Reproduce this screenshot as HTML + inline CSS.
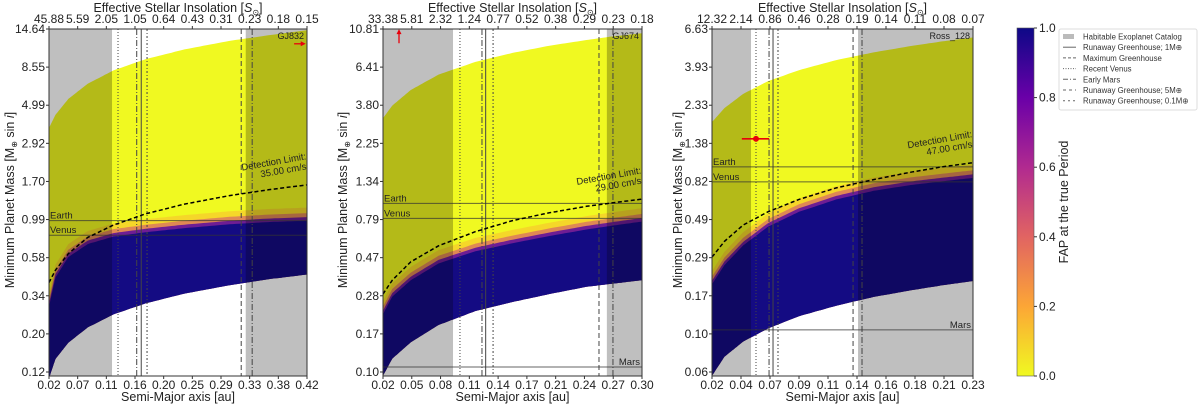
<!DOCTYPE html>
<html><head><meta charset="utf-8"><style>
html,body{margin:0;padding:0;background:#fff;}
svg{display:block;font-family:"Liberation Sans","DejaVu Sans",sans-serif;}
</style></head><body>
<svg id="chart" width="1200" height="405" viewBox="0 0 1200 405"></svg>
<script>
// ---------- DATA ----------
const panelNames = ['GJ832', 'GJ674', 'Ross_128'];
const detectLabels = ['35.00 cm/s', '29.00 cm/s', '47.00 cm/s'];
const aGrid1 = [0.02, 0.03, 0.05, 0.08, 0.12, 0.17, 0.23, 0.30, 0.36, 0.42];
const aGrid2 = [0.02, 0.03, 0.05, 0.08, 0.12, 0.16, 0.20, 0.24, 0.27, 0.30];
const aGrid3 = [0.02, 0.03, 0.045, 0.065, 0.09, 0.12, 0.15, 0.18, 0.205, 0.23];
const upper1 = [3.66, 4.4, 5.5, 6.8, 8.2, 9.6, 11.0, 12.4, 13.4, 14.4];
const upper2 = [3.2, 3.8, 4.7, 5.8, 6.9, 7.8, 8.6, 9.3, 9.8, 10.2];
const upper3 = [1.85, 2.24, 2.72, 3.24, 3.77, 4.33, 4.81, 5.25, 5.59, 5.9];
const lower1 = [0.11, 0.144, 0.181, 0.224, 0.269, 0.314, 0.36, 0.405, 0.44, 0.47];
const lower2 = [0.095, 0.12, 0.15, 0.19, 0.23, 0.26, 0.29, 0.32, 0.335, 0.35];
const lower3 = [0.057, 0.074, 0.091, 0.109, 0.129, 0.149, 0.168, 0.184, 0.197, 0.209];
const detect1 = [0.42, 0.50, 0.63, 0.79, 0.94, 1.10, 1.26, 1.42, 1.54, 1.65];
const detect2 = [0.29, 0.35, 0.45, 0.56, 0.68, 0.79, 0.88, 0.96, 1.01, 1.06];
const detect3 = [0.29, 0.36, 0.45, 0.54, 0.64, 0.75, 0.84, 0.93, 1.0, 1.06];
const trans1 = [0.30, 0.45, 0.60, 0.72, 0.80, 0.85, 0.90, 0.95, 0.98, 1.0];
const trans2 = [0.22, 0.28, 0.35, 0.44, 0.52, 0.58, 0.64, 0.70, 0.74, 0.78];
const trans3 = [0.20, 0.26, 0.34, 0.44, 0.54, 0.64, 0.72, 0.78, 0.82, 0.86];
const hec1 = [[0.02, 0.1177], [0.325, 0.42]];
const hec2 = [[0.02, 0.0957], [0.262, 0.30]];
const hec3 = [[0.02, 0.0514], [0.1375, 0.23]];
const vlines1 = [0.127, 0.156, 0.163, 0.172, 0.318, 0.335];
const vlines2 = [0.1032, 0.127, 0.131, 0.139, 0.2535, 0.2686];
const vlines3 = [0.0554, 0.0659, 0.0691, 0.0731, 0.1335, 0.1407];
const vStyles = ['1,2', '6,2,1,2', '', '2,2,1,2', '5,3', '6,2,1,2'];
const refNames = ['Earth', 'Venus', 'Mars'];
const refMass = [1.0, 0.815, 0.107];
const xTicks1 = ['0.02','0.07','0.11','0.16','0.20','0.25','0.29','0.33','0.38','0.42'];
const xTicks2 = ['0.02','0.05','0.08','0.11','0.14','0.17','0.21','0.24','0.27','0.30'];
const xTicks3 = ['0.02','0.04','0.07','0.09','0.11','0.14','0.16','0.18','0.21','0.23'];
const topTicks1 = ['45.88','5.59','2.05','1.05','0.64','0.43','0.31','0.23','0.18','0.15'];
const topTicks2 = ['33.38','5.81','2.32','1.24','0.77','0.52','0.38','0.29','0.23','0.18'];
const topTicks3 = ['12.32','2.14','0.86','0.46','0.28','0.19','0.14','0.11','0.08','0.07'];
const yTicks1 = ['14.64','8.55','4.99','2.92','1.70','0.99','0.58','0.34','0.20','0.12'];
const yTicks2 = ['10.81','6.41','3.80','2.25','1.34','0.79','0.47','0.28','0.17','0.10'];
const yTicks3 = ['6.63','3.93','2.33','1.38','0.82','0.49','0.29','0.17','0.10','0.06'];
const aRange1 = [0.02, 0.42], aRange2 = [0.02, 0.30], aRange3 = [0.02, 0.23];
const mRange1 = [14.64, 0.12], mRange2 = [10.81, 0.10], mRange3 = [6.63, 0.06];
const arrow1 = [0.400, 0.418, 11.9];
const arrow2 = [0.0373, 8.9, 10.8];
const planet3 = [0.0554, 0.044, 0.066, 1.47];
const cbTicks = ['0.0','0.2','0.4','0.6','0.8','1.0'];
const legendLabels = ['Habitable Exoplanet Catalog','Runaway Greenhouse; 1M\u2295','Maximum Greenhouse','Recent Venus','Early Mars','Runaway Greenhouse; 5M\u2295','Runaway Greenhouse; 0.1M\u2295'];

// ---------- LAYOUT ----------
const layout = [
  {x0:49, x1:307, ylab:9},
  {x0:383, x1:642, ylab:342},
  {x0:712, x1:973, ylab:677}
];
const Y0 = 29, YT = 372, YB = 376;
const NS = 'http://www.w3.org/2000/svg';
const svg = document.getElementById('chart');
function mk(tag, attrs, parent) {
  const el = document.createElementNS(NS, tag);
  for (const k in attrs) el.setAttribute(k, attrs[k]);
  (parent || svg).appendChild(el);
  return el;
}
function txt(parent, x, y, s, size, anchor, extra) {
  const t = mk('text', Object.assign({x:x, y:y, 'font-size':size, 'text-anchor':anchor || 'middle', fill:'#222'}, extra || {}), parent);
  t.textContent = s;
  return t;
}

const data = [
  {aG:aGrid1, up:upper1, lo:lower1, det:detect1, tr:trans1, hec:hec1, vl:vlines1, xt:xTicks1, tt:topTicks1, yt:yTicks1, ar:aRange1, mr:mRange1},
  {aG:aGrid2, up:upper2, lo:lower2, det:detect2, tr:trans2, hec:hec2, vl:vlines2, xt:xTicks2, tt:topTicks2, yt:yTicks2, ar:aRange2, mr:mRange2},
  {aG:aGrid3, up:upper3, lo:lower3, det:detect3, tr:trans3, hec:hec3, vl:vlines3, xt:xTicks3, tt:topTicks3, yt:yTicks3, ar:aRange3, mr:mRange3}
];

data.forEach((d, pi) => {
  const L = layout[pi];
  const xs = a => L.x0 + (a - d.ar[0]) / (d.ar[1] - d.ar[0]) * (L.x1 - L.x0);
  const ys = m => Y0 + (Math.log(d.mr[0]) - Math.log(m)) / (Math.log(d.mr[0]) - Math.log(d.mr[1])) * (YT - Y0);
  function curve(vals, k) {
    const pts = [];
    for (let i = 0; i < d.aG.length - 1; i++) {
      for (let s = 0; s < 12; s++) {
        const t = s / 12;
        const a = d.aG[i] + (d.aG[i+1] - d.aG[i]) * t;
        const m = Math.exp(Math.log(vals[i] * (k||1)) * (1-t) + Math.log(vals[i+1] * (k||1)) * t);
        pts.push([xs(a), ys(m)]);
      }
    }
    const n = d.aG.length - 1;
    pts.push([xs(d.aG[n]), ys(vals[n] * (k||1))]);
    return pts;
  }
  const toStr = p => p.map(q => q[0].toFixed(1) + ',' + q[1].toFixed(1)).join(' ');
  const band = (topV, kt, botV, kb) => toStr(curve(topV, kt).concat(curve(botV, kb).reverse()));

  const g = mk('g', {});
  
  
  const cp = mk('clipPath', {id: 'clip' + pi}, g);
  mk('rect', {x:L.x0, y:Y0, width:L.x1 - L.x0, height:YB - Y0}, cp);
  const plot = mk('g', {'clip-path': 'url(#clip' + pi + ')'}, g);

  const yb = mk('polygon', {points: band(d.up, 1, d.lo, 1), fill:'#f0f921'}, plot);
  
  
  const f3 = mk('polygon', {points: band(d.tr, 1.2, d.lo, 1), fill:'#fca636', opacity:0.4}, plot);
  
  
  const f2 = mk('polygon', {points: band(d.tr, 1.11, d.lo, 1), fill:'#cc4778', opacity:0.55}, plot);
  
  
  const f1 = mk('polygon', {points: band(d.tr, 1.05, d.lo, 1), fill:'#5a0aa0', opacity:0.85}, plot);
  
  
  const bl = mk('polygon', {points: band(d.tr, 1, d.lo, 1), fill:'#140b83'}, plot);
  
  

  d.hec.forEach(z => {
    const r = mk('rect', {x: xs(z[0]), y: Y0, width: xs(z[1]) - xs(z[0]), height: YB - Y0, fill:'#000', opacity:0.25}, plot);
    
    
  });

  d.vl.forEach((a, i) => {
    const l = mk('line', {x1: xs(a), x2: xs(a), y1: Y0, y2: YB, stroke:'#444', 'stroke-width':1, 'stroke-dasharray': vStyles[i]}, plot);
    
    
  });

  refMass.forEach((m, i) => {
    if (m < d.mr[1]) return;
    const y = ys(m);
    const l = mk('line', {x1: L.x0, x2: L.x1, y1: y, y2: y, stroke:'#333', 'stroke-width':1, opacity:0.75}, plot);
    
    
    const t = i === 2 ? txt(plot, L.x1 - 2, y - 2, refNames[i], 9.5, 'end') : txt(plot, L.x0 + 1, y - 2, refNames[i], 9.5, 'start');
    
    
  });

  const dl = mk('polyline', {points: toStr(curve(d.det, 1)), fill:'none', stroke:'#000', 'stroke-width':1.5, 'stroke-dasharray':'4,2.5'}, plot);
  
  
  const n = d.det.length - 1;
  const lx = L.x1 - 32, ly = ys(d.det[n]) - 16;
  const dt = mk('g', {transform: 'rotate(-10 ' + lx + ' ' + ly + ')'}, plot);
  
  
  txt(dt, lx, ly - 4, 'Detection Limit:', 9.5, 'middle');
  txt(dt, lx + 8, ly + 6, detectLabels[pi], 9.5, 'middle');

  const nm = txt(plot, L.x1 - 3, Y0 + 10, panelNames[pi], 9, 'end');
  
  

  if (pi === 0) {
    const y = ys(arrow1[2]);
    const ln = mk('line', {x1: xs(arrow1[0]), x2: xs(arrow1[1]) - 3, y1: y, y2: y, stroke:'#e8000b', 'stroke-width':1.3}, plot);
    
    
    const hd = mk('polygon', {points: (xs(arrow1[1])) + ',' + y + ' ' + (xs(arrow1[1]) - 5) + ',' + (y - 2.5) + ' ' + (xs(arrow1[1]) - 5) + ',' + (y + 2.5), fill:'#e8000b'}, plot);
    
    
  } else if (pi === 1) {
    const x = xs(arrow2[0]);
    const ln = mk('line', {x1: x, x2: x, y1: ys(arrow2[1]), y2: ys(arrow2[2]) + 3, stroke:'#e8000b', 'stroke-width':1.3}, plot);
    
    
    const yy = ys(arrow2[2]);
    const hd = mk('polygon', {points: x + ',' + yy + ' ' + (x - 2.5) + ',' + (yy + 5) + ' ' + (x + 2.5) + ',' + (yy + 5), fill:'#e8000b'}, plot);
    
    
  } else {
    const y = ys(planet3[3]);
    const eb = mk('line', {x1: xs(planet3[1]), x2: xs(planet3[2]), y1: y, y2: y, stroke:'#e8000b', 'stroke-width':1.6}, plot);
    
    
    const pt = mk('circle', {cx: xs(planet3[0]), cy: y, r: 3, fill:'#e8000b'}, plot);
    
    
  }

  const frame = mk('rect', {x: L.x0, y: Y0, width: L.x1 - L.x0, height: YB - Y0, fill:'none', stroke:'#333', 'stroke-width':1}, g);
  
  

  const nx = d.xt.length;
  d.xt.forEach((s, i) => {
    const a = d.ar[0] + i * (d.ar[1] - d.ar[0]) / (nx - 1);
    const x = xs(a);
    mk('line', {x1:x, x2:x, y1:YB, y2:YB + 3, stroke:'#333'}, g);
    const t = txt(g, x, 389, s, 12, 'middle');
    
    
    mk('line', {x1:x, x2:x, y1:Y0, y2:Y0 - 3, stroke:'#333'}, g);
    const t2 = txt(g, x, 23, d.tt[i], 12, 'middle');
    
    
  });
  const ny = d.yt.length;
  d.yt.forEach((s, i) => {
    const m = Math.exp(Math.log(d.mr[0]) + i * (Math.log(d.mr[1]) - Math.log(d.mr[0])) / (ny - 1));
    const y = ys(m);
    mk('line', {x1:L.x0, x2:L.x0 - 3, y1:y, y2:y, stroke:'#333'}, g);
    const t = txt(g, L.x0 - 4, y + 4, s, 12, 'end');
    
    
  });
  const cx = (L.x0 + L.x1) / 2;
  const xt = txt(g, cx, 401, 'Semi-Major axis [au]', 12.5, 'middle');
  
  
  const tt = txt(g, cx, 12, '', 12.5, 'middle');
  tt.innerHTML = 'Effective Stellar Insolation [<tspan font-style="italic">S</tspan><tspan font-size="8" dy="3">\u2299</tspan><tspan dy="-3">]</tspan>';
  
  
  const yl = txt(g, 0, 0, '', 12.5, 'middle', {transform: 'translate(' + (L.ylab + 5) + ',200) rotate(-90)'});
  yl.innerHTML = 'Minimum Planet Mass [M<tspan font-size="8" dy="3">\u2295</tspan><tspan dy="-3"> sin </tspan><tspan font-style="italic">i</tspan>]';
  
  
});

// ---------- COLORBAR ----------
const defs = mk('defs', {});
const lg = mk('linearGradient', {id:'plasma', x1:0, y1:1, x2:0, y2:0}, defs);
[['0','#f0f921'],['0.2','#fca636'],['0.4','#e16462'],['0.6','#b12a90'],['0.8','#6a00a8'],['1','#0d0887']].forEach(s => mk('stop', {offset:s[0], 'stop-color':s[1]}, lg));
const cbG = mk('g', {});


mk('rect', {x:1017, y:28, width:17, height:348, fill:'url(#plasma)', stroke:'#555', 'stroke-width':0.6}, cbG);
cbTicks.forEach((s, i) => {
  const y = 376 - i * 348 / (cbTicks.length - 1);
  mk('line', {x1:1034, x2:1037, y1:y, y2:y, stroke:'#333'}, cbG);
  const t = txt(cbG, 1039, y + 4, s, 12, 'start');
  
  
});
const cbt = txt(cbG, 0, 0, 'FAP at the true Period', 12.5, 'middle', {transform: 'translate(1068,202) rotate(-90)'});



// ---------- LEGEND ----------
const leg = mk('g', {});


mk('rect', {x:1059, y:29, width:138, height:81, fill:'#fff', stroke:'#ddd', rx:2}, leg);
const legDash = ['', '', '3,2', '1,1.5', '5,2,1,2', '3,3', '2,3'];
legendLabels.forEach((s, i) => {
  const y = 36.5 + i * 10.7;
  if (i === 0) {
    mk('rect', {x:1063, y:y - 2.5, width:11, height:5, fill:'#bbb'}, leg);
  } else {
    mk('line', {x1:1063, x2:1076, y1:y, y2:y, stroke:'#666', 'stroke-width':1, 'stroke-dasharray':legDash[i]}, leg);
  }
  const t = txt(leg, 1083, y + 3, s, 7.8, 'start', {fill:'#333'});
  
  
});
</script>
</body></html>
